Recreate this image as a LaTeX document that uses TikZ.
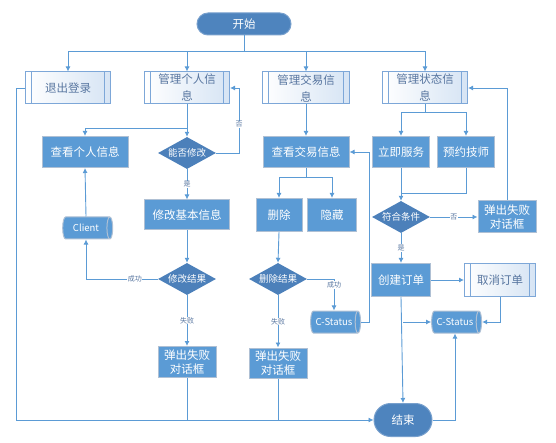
\documentclass[tikz,border=0pt]{standalone}
\usepackage{fontspec}
\setmainfont{Noto Sans CJK SC}
\usetikzlibrary{shapes.geometric,shapes.misc,arrows.meta}
\definecolor{bf}{RGB}{91,155,213}
\definecolor{bd}{RGB}{175,192,212}
\definecolor{df}{RGB}{76,128,186}
\definecolor{tf}{RGB}{78,132,190}
\definecolor{tb}{RGB}{120,160,205}
\definecolor{lc}{RGB}{91,155,213}
\definecolor{st}{RGB}{88,118,160}
\definecolor{sb}{RGB}{125,167,216}
\definecolor{sg}{RGB}{214,228,244}
\tikzset{
  ln/.style={draw=lc, line width=0.9pt},
  arr/.style={ln, -{Latex[length=5pt,width=5pt]}},
  box/.style={rectangle, fill=bf, draw=bd, line width=1pt, text=white, inner sep=0pt, align=center,
    font=\fontsize{11.5}{14}\selectfont},
  sub/.style={rectangle, left color=white, right color=sg, draw=sb, line width=1pt, text=st, inner sep=0pt, align=center,
    font=\fontsize{11.5}{17}\selectfont,
    path picture={\draw[sb, line width=1pt] ([xshift=6pt]path picture bounding box.north west) -- ([xshift=6pt]path picture bounding box.south west);
                  \draw[sb, line width=1pt] ([xshift=-6pt]path picture bounding box.north east) -- ([xshift=-6pt]path picture bounding box.south east);}},
  term/.style={rounded rectangle, fill=tf, draw=tb, line width=1pt, text=white, inner sep=0pt,
    font=\fontsize{11.5}{14}\selectfont},
  dia/.style={diamond, minimum width=58pt, minimum height=32pt, inner sep=0pt, fill=df, draw=none,
    label={[text=white, font=\fontsize{9.5}{11}\selectfont]center:#1}},
  cyl/.style={cylinder, shape aspect=0.75, minimum width=22pt, minimum height=50pt, inner sep=0pt,
    cylinder uses custom fill, cylinder body fill=bf, cylinder end fill=bf, draw=bd, line width=1pt,
    text=white, font=\fontsize{9.5}{11}\selectfont},
  lbl/.style={fill=white, inner sep=0.6pt, text=st, font=\fontsize{7}{8}\selectfont},
}
\begin{document}
\begin{tikzpicture}[x=1pt,y=-1pt]
\useasboundingbox (0,0) rectangle (556,443);
% nodes
\node[term, minimum width=94pt, minimum height=22pt] (start) at (244,24) {开始};
\node[sub, minimum width=85pt, minimum height=32pt] (quit) at (68,88) {退出登录};
\node[sub, minimum width=85pt, minimum height=32pt] (mp) at (187,88) {管理个人信\\息};
\node[sub, minimum width=87pt, minimum height=32pt] (mt) at (306,88) {管理交易信\\息};
\node[sub, minimum width=85pt, minimum height=32pt] (ms) at (425,88) {管理状态信\\息};
\node[box, minimum width=86pt, minimum height=31pt] (vp) at (85,152) {查看个人信息};
\node[dia=能否修改] (d1) at (187,153) {};
\node[box, minimum width=86pt, minimum height=31pt] (vt) at (306,152) {查看交易信息};
\node[box, minimum width=57pt, minimum height=31pt] (now) at (401,152) {立即服务};
\node[box, minimum width=57pt, minimum height=31pt] (book) at (466,152) {预约技师};
\node[box, minimum width=85pt, minimum height=30pt] (edit) at (187,215) {修改基本信息};
\node[box, minimum width=46pt, minimum height=33pt] (del) at (279,215) {删除};
\node[box, minimum width=49pt, minimum height=33pt] (hide) at (332,215) {隐藏};
\node[dia=符合条件] (d3) at (401,217) {};
\node[box, minimum width=58pt, minimum height=32pt] (fail3) at (507,217) {弹出失败\\对话框};
\node[cyl] (client) at (86,228) {Client};
\node[dia=修改结果] (d2) at (187,279) {};
\node[dia=删除结果] (d4) at (278,279) {};
\node[box, minimum width=59pt, minimum height=33pt] (create) at (401,280) {创建订单};
\node[sub, minimum width=71pt, minimum height=33pt] (cancel) at (500,280) {取消订单};
\node[cyl] (cs1) at (334,322) {C-Status};
\node[cyl] (cs2) at (455,322) {C-Status};
\node[box, minimum width=58pt, minimum height=31pt] (fail1) at (187,362) {弹出失败\\对话框};
\node[box, minimum width=58pt, minimum height=30pt] (fail2) at (278,363) {弹出失败\\对话框};
\node[term, minimum width=58pt, minimum height=33pt] (end) at (403,420) {结束};
\coordinate (b0) at (244,51);
\coordinate (b1) at (187,128);
\coordinate (b2) at (306,177);
\coordinate (b3) at (425,112);
\coordinate (b4) at (401,193);
\coordinate (b5) at (403,322);
% connectors
\draw[ln] (start.south) -- (b0);
\draw[arr] (b0) -| (quit.north);
\draw[arr] (b0) -| (mp.north);
\draw[arr] (b0) -| (mt.north);
\draw[arr] (b0) -| (ms.north);
\draw[arr] (mp.south) -- (d1.north);
\draw[arr] (b1) -| (vp.north);
\draw[arr] (d1.east) -| ([xshift=9pt]mp.east) node[lbl, pos=0.72] {否} -- (mp.east);
\draw[arr] (d1.south) -- node[lbl] {是} (edit.north);
\draw[arr] (edit.south) -- (d2.north);
\draw[arr] (d2.west) -| node[lbl, pos=0.16] {成功} (client.south);
\draw[arr] (client.north) -- (vp.south);
\draw[arr] (d2.south) -- node[lbl, pos=0.5] {失败} (fail1.north);
\draw[arr] (quit.west) -- ++(-9,0) |- (end.west);
\draw[ln] (fail1.south) -- (fail1.south |- end.west);
\draw[ln] (fail2.south) -- (fail2.south |- end.west);
\draw[arr] (mt.south) -- (vt.north);
\draw[ln] (vt.south) -- (b2);
\draw[arr] (b2) -| (del.north);
\draw[arr] (b2) -| (hide.north);
\draw[arr] (del.south) -- (d4.north);
\draw[arr] (d4.east) -| node[lbl, pos=0.6] {成功} (cs1.north);
\draw[arr] (d4.south) -- node[lbl, pos=0.5] {失败} (fail2.north);
\draw[arr] (cs1.east) -- ++(8,0) |- (vt.east);
\draw[ln] (ms.south) -- (b3);
\draw[arr] (b3) -| (now.north);
\draw[arr] (b3) -| (book.north);
\draw[arr] (now.south) -- (d3.north);
\draw[ln] (book.south) |- (b4);
\draw[arr] (d3.east) -- node[lbl] {否} (fail3.west);
\draw[arr] (fail3.north) |- (ms.east);
\draw[arr] (d3.south) -- node[lbl] {是} (create.north);
\draw[arr] (create.east) -- (cancel.west);
\draw[arr] (cancel.south) |- (cs2.east);
\draw[arr] (create.south) -- (end.north);
\draw[arr] (b5) -- (cs2.west);
\draw[arr] (end.east) -| (cs2.south);
\end{tikzpicture}
\end{document}
